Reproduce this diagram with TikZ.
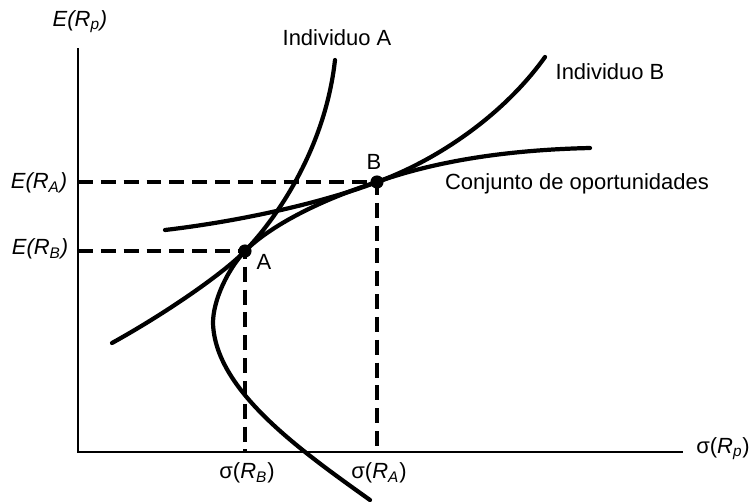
\documentclass[tikz,border=0pt]{standalone}
\usepackage{fontspec}
\setmainfont{Liberation Sans}
\usetikzlibrary{positioning}

\begin{document}
\begin{tikzpicture}[x=0.02cm,y=-0.02cm,
  curve/.style={line width=2.4pt,line cap=round,line join=round},
  axis/.style={line width=1.6pt},
  guide/.style={line width=1.8pt,dash pattern=on 8.5pt off 4.5pt},
  lbl/.style={font=\fontsize{12.5}{14}\selectfont,inner sep=1pt},
  dot/.style={circle,fill,inner sep=0pt,minimum size=7.5pt}]
  \useasboundingbox (0,0) rectangle (753,501);
  % axes
  \coordinate (O) at (78,452);
  \coordinate (ytop) at (78,48);
  \coordinate (xend) at (683,452);
  \draw[axis] (ytop) -- (O) -- (xend);
  \node[lbl] (ylab) at (80,22) {\itshape E(R\textsubscript{p})};
  \node[lbl] (xlab) at (723,449) {σ(\textit{R}\textsubscript{\itshape p})};
  % tangency points
  \node[dot] (A) at (245,251) {};
  \node[dot] (B) at (377,182) {};
  \node[lbl] (Alab) at (264,262) {A};
  \node[lbl] (Blab) at (374,162) {B};
  % guide lines
  \draw[guide] (O |- A) -- (A.center) -- (A |- O);
  \draw[guide] (O |- B) -- (B.center) -- (B |- O);
  \node[lbl] (EB) at (40,249) {\itshape E(R\textsubscript{B})};
  \node[lbl] (EA) at (39,183) {\itshape E(R\textsubscript{A})};
  \node[lbl] (sB) at (247,473) {σ(\textit{R}\textsubscript{\itshape B})};
  \node[lbl] (sA) at (379,473) {σ(\textit{R}\textsubscript{\itshape A})};
  % opportunity set
  \draw[curve] (590,148) .. controls (500,150) and (430,163) .. (B.center)
    .. controls (320,200) and (270,226) .. (A.center)
    .. controls (228,269) and (213,300) .. (213,323)
    .. controls (215,390) and (300,450) .. (370,500);
  \node[lbl] (opp) at (577,184) {Conjunto de oportunidades};
  % indifference curves
  \draw[curve] (112,343) .. controls (168,312) and (225,272) .. (A.center)
    .. controls (275,220) and (325,150) .. (335,60);
  \node[lbl] (indA) at (337,38) {Individuo A};
  \draw[curve] (165,230) .. controls (250,220) and (330,200) .. (B.center)
    .. controls (430,163) and (500,120) .. (545,57);
  \node[lbl] (indB) at (610,72) {Individuo B};
\end{tikzpicture}
\end{document}
